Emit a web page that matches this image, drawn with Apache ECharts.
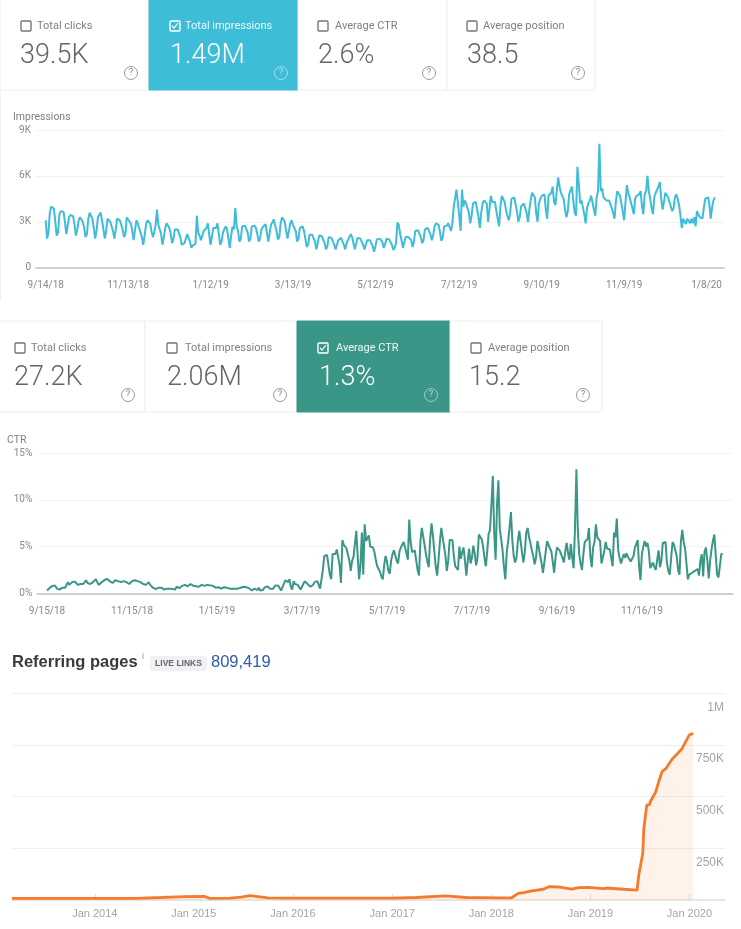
<!DOCTYPE html>
<html>
<head>
<meta charset="utf-8">
<title>Search Console and referring pages</title>
<script src="https://cdn.jsdelivr.net/npm/echarts@6/dist/echarts.min.js"></script>
<style>
  html, body { margin: 0; padding: 0; background: #fff; }
  #chart { width: 741px; height: 929px; }
</style>
</head>
<body>
<div id="chart"></div>
<script>
// top cards
const CARD_LABELS = ['Total clicks', 'Total impressions', 'Average CTR', 'Average position'];
const CARD_VALUES_1 = ['39.5K', '1.49M', '2.6%', '38.5'];
const CARD_VALUES_2 = ['27.2K', '2.06M', '1.3%', '15.2'];

// impressions (thousands), one value a day from 9/14/18, one row a week
const impressionsK = [3.1,
  1.9,2.3,3.6,4.0,3.95,3.85,3.0,
  2.1,2.3,3.5,3.7,3.75,3.65,3.0,
  2.2,2.2,3.3,3.45,3.4,3.35,2.8,
  2.1,2.5,3.1,3.3,3.2,3.0,2.6,
  2.0,2.2,3.2,3.6,3.5,3.2,2.6,
  1.9,2.4,3.3,3.4,3.6,3.1,2.5,
  1.9,2.4,3.2,3.25,3.0,2.9,2.4,
  1.9,2.5,3.2,3.15,3.1,3.0,2.5,
  2.0,2.2,3.3,3.15,3.25,2.9,2.4,
  1.8,1.9,3.1,2.9,2.6,2.5,2.0,
  1.5,2.1,2.8,3.1,3.2,2.9,2.4,
  2.0,2.3,2.8,3.8,2.8,2.7,2.2,
  1.5,2.0,2.6,2.9,2.8,2.6,2.2,
  1.6,1.9,2.5,2.6,2.5,2.45,2.0,
  1.5,1.5,1.6,1.7,2.2,2.2,1.7,
  1.3,1.45,1.5,1.55,3.4,2.3,2.1,
  1.8,2.1,2.4,2.5,2.6,2.9,2.8,
  1.5,1.6,2.6,2.6,2.6,2.9,2.2,
  1.5,1.7,2.3,2.5,2.7,2.5,1.9,
  1.3,2.1,2.7,2.5,3.9,2.7,2.4,
  1.7,1.9,2.7,2.6,2.75,2.85,2.3,
  1.7,1.9,2.7,2.8,2.75,2.6,2.2,
  1.7,1.9,2.5,2.65,2.75,2.85,2.3,
  1.7,1.8,2.8,2.95,3.15,3.05,2.4,
  1.85,2.0,2.9,3.3,3.2,3.0,2.4,
  1.9,2.0,2.9,3.1,2.8,2.8,2.4,
  1.7,1.9,2.6,2.7,2.7,2.4,1.9,
  1.35,1.5,2.15,2.15,2.15,2.2,1.7,
  1.2,1.6,2.1,2.05,2.05,2.0,1.6,
  1.2,1.4,2.0,1.95,1.95,1.9,1.5,
  1.2,1.5,1.8,1.9,1.95,1.9,1.5,
  1.2,1.6,1.8,2.0,2.2,2.0,1.6,
  1.2,1.6,1.95,1.85,1.9,1.8,1.5,
  1.2,1.5,1.8,1.85,1.8,1.7,1.4,
  1.05,1.4,1.85,1.8,1.9,2.0,1.7,
  1.3,1.5,1.9,1.95,1.85,1.75,1.5,
  1.15,1.3,1.6,2.95,2.8,2.2,1.8,
  1.3,1.4,2.0,2.1,2.0,2.1,1.8,
  1.35,1.7,2.4,2.45,2.45,2.35,2.0,
  1.6,1.8,2.5,2.6,2.6,2.5,2.2,
  1.8,2.1,2.7,2.9,2.95,2.8,2.3,
  1.75,2.0,2.7,2.8,2.75,2.9,2.8,
  2.4,2.9,4.0,4.1,5.1,5.1,3.4,
  2.4,5.1,4.0,4.4,4.2,4.2,3.6,
  2.9,3.4,4.2,4.1,4.3,4.3,3.3,
  2.6,3.6,4.2,4.4,4.3,4.2,3.0,
  2.9,4.7,4.3,4.3,4.3,3.7,3.2,
  2.7,4.0,4.7,4.5,4.3,3.8,3.4,
  3.1,3.5,4.5,4.6,4.6,4.6,3.7,
  3.0,3.3,4.0,4.1,4.2,4.3,3.6,
  3.0,3.8,4.4,4.9,4.9,4.6,3.6,
  3.0,4.2,4.5,4.7,4.7,4.8,3.8,
  3.2,4.7,4.8,4.9,5.3,4.3,4.1,
  4.0,5.9,5.3,4.9,4.7,4.5,3.8,
  3.3,3.7,4.8,4.9,5.3,4.4,3.6,
  3.4,6.6,5.5,4.2,4.4,4.5,3.5,
  2.9,3.9,4.2,4.4,4.7,4.6,3.8,
  3.4,4.6,5.0,8.1,5.0,5.2,4.6,
  4.5,4.4,4.5,4.4,4.3,3.9,3.6,
  3.2,4.3,5.0,4.9,4.7,4.6,3.7,
  3.1,4.3,5.4,4.9,4.6,4.6,3.9,
  3.5,4.5,4.7,4.8,4.8,5.0,4.0,
  3.5,4.8,5.0,6.0,5.0,4.5,3.9,
  3.5,4.6,4.9,5.0,5.3,5.6,4.5,
  3.8,4.3,4.9,4.9,4.6,4.5,4.0,
  3.7,3.9,4.6,4.8,4.5,4.1,3.4,
  2.6,3.2,3.0,2.85,3.2,3.2,2.9,
  3.2,2.9,3.3,2.7,3.7,3.5,3.3,
  3.3,3.2,3.9,4.5,4.5,4.6,4.2,
  3.2,3.9,4.4,4.6
];
const impressionsTickDays = [0, 60, 120, 180, 240, 301, 361, 421, 481];
const impressionsTickLabels = ['9/14/18', '11/13/18', '1/12/19', '3/13/19', '5/12/19', '7/12/19', '9/10/19', '11/9/19', '1/8/20'];

// CTR (%), one value a day from 9/15/18, ten to a row
const ctrPercent = [
  .3,.4,.6,.8,.8,.75,.8,.5,.35,.4,
  .55,.6,.6,.6,.9,1.2,.9,1.0,1.2,1.2,
  1.25,1.2,.9,.8,1.0,1.0,1.0,1.1,1.4,1.1,
  1.0,1.0,1.05,1.2,1.4,1.5,1.2,.9,1.1,1.15,
  1.2,1.4,1.6,1.55,1.45,1.3,1.3,1.1,1.0,1.4,
  1.5,1.3,1.2,1.2,1.2,1.3,1.5,1.2,1.1,1.0,
  1.2,1.3,1.4,1.4,1.4,1.3,1.25,1.2,1.0,1.0,
  1.2,.9,.95,1.2,.9,.7,.6,.4,.45,.6,
  .6,.55,.6,.55,.4,.3,.5,.55,.5,.5,
  .45,.5,.4,.7,.75,.55,.55,.8,1.0,.9,
  .8,.75,.7,1.0,.95,.8,.8,.75,.8,.7,
  .8,.9,.75,.8,.85,.9,.8,.85,1.0,.8,
  .6,.6,.65,.65,.65,.5,.4,.65,.7,.6,
  .6,.5,.4,.5,.55,.5,.45,.5,.6,.6,
  .4,.7,.7,.65,.6,.55,.4,.3,.1,.5,
  .3,.35,.6,.3,.25,.35,.6,.7,.75,.8,
  .5,.3,.45,.6,.85,1.0,.8,.6,.3,.5,
  1.0,1.4,1.25,1.2,1.5,.7,.4,1.3,1.0,.85,
  .9,.7,.4,.7,.8,1.3,1.1,1.0,.9,.7,
  .6,.9,1.2,1.25,1.3,1.3,.5,.6,2.5,4.0,
  4.1,4.1,4.1,2.0,1.5,4.2,4.0,4.2,4.7,4.6,
  3.0,1.1,5.7,5.2,5.0,4.8,4.6,3.5,2.4,3.5,
  3.9,3.7,6.7,4.0,1.5,3.0,6.5,2.0,7.4,5.6,
  5.5,6.2,5.0,5.0,4.9,4.4,3.6,2.9,2.6,2.3,
  1.8,1.5,3.0,4.0,3.4,2.4,2.1,3.5,4.2,4.6,
  4.4,3.5,3.2,4.5,4.9,5.1,5.5,4.9,4.3,3.6,
  7.9,5.5,4.4,4.5,4.6,3.5,2.5,1.9,5.5,7.0,
  7.0,5.2,4.2,3.4,2.8,5.8,7.5,6.2,4.5,2.9,
  1.9,3.5,5.5,7.0,6.0,6.2,4.0,2.4,3.5,5.7,
  5.8,5.7,4.0,2.9,2.7,2.5,5.0,3.7,4.4,4.9,
  3.5,1.9,3.5,4.8,3.2,3.8,5.1,4.3,3.0,3.8,
  6.3,6.5,5.8,5.0,3.8,2.9,4.5,6.4,6.8,9.5,
  12.6,6.5,3.6,9.5,12.1,6.9,5.8,4.6,2.8,1.5,
  4.4,5.6,7.0,8.7,5.7,4.0,3.3,3.8,5.6,6.7,
  5.5,4.3,3.3,4.5,6.5,7.0,6.0,5.4,4.6,4.0,
  3.1,3.8,5.6,4.9,4.0,3.2,2.2,2.4,4.5,5.6,
  5.6,4.8,4.5,3.4,2.2,3.8,4.9,5.0,4.6,4.2,
  3.8,3.3,4.5,5.4,4.3,3.6,5.3,3.8,2.7,7.0,
  13.3,6.9,4.2,3.2,2.5,4.2,5.5,5.6,5.8,7.0,
  4.0,2.8,4.9,5.5,7.4,6.0,5.8,5.6,3.2,3.1,
  4.5,5.5,4.8,4.7,4.7,3.8,2.9,6.5,6.0,8.0,
  4.6,3.8,3.2,3.2,4.2,3.8,4.3,3.9,3.7,3.4,
  3.2,4.0,4.9,5.0,5.7,2.9,1.4,4.2,5.0,5.6,
  5.0,5.4,4.5,2.7,3.0,3.3,2.8,2.5,3.6,4.6,
  2.8,3.5,5.4,5.5,5.5,3.2,2.4,2.0,1.8,5.5,
  5.2,5.0,4.0,2.5,2.0,5.5,6.8,5.5,4.8,3.2,
  1.5,2.0,2.2,2.2,2.4,2.4,2.6,2.6,1.9,3.5,
  4.2,1.8,4.5,4.9,3.5,1.6,3.5,4.7,5.6,6.3,
  6.3,2.0,1.7,1.6,4.2,4.2
];
const ctrTickDays = [0, 61, 122, 183, 244, 305, 366, 427];
const ctrTickLabels = ['9/15/18', '11/15/18', '1/15/19', '3/17/19', '5/17/19', '7/17/19', '9/16/19', '11/16/19'];

// referring pages
const referringDates = ['2013-03-02', '2014-06-01', '2014-09-01', '2014-12-01', '2015-02-10', '2015-03-01',
  '2015-05-15', '2015-06-25', '2015-07-27', '2015-10-01', '2016-01-01', '2017-01-01', '2017-04-01', '2017-07-15',
  '2017-10-01', '2018-02-01', '2018-03-17', '2018-04-10', '2018-05-05', '2018-05-30', '2018-07-12', '2018-08-03',
  '2018-09-05', '2018-10-24', '2018-11-18', '2018-12-24', '2019-02-18', '2019-03-03', '2019-05-03', '2019-06-22',
  '2019-06-28', '2019-07-05', '2019-07-13', '2019-07-17', '2019-07-23', '2019-07-28', '2019-08-06', '2019-08-11',
  '2019-08-29', '2019-09-10', '2019-09-22', '2019-10-07', '2019-10-29', '2019-12-03', '2019-12-31', '2020-01-15'];
const referringValues = [8000, 8000, 12000, 16000, 17000, 8000,
  9000, 14000, 21000, 10000, 9000, 9000, 12000, 20000,
  12000, 10000, 11000, 32000, 37000, 44000, 52000, 65000,
  63000, 53000, 60000, 61000, 55000, 58000, 52000, 48000,
  118000, 121000, 226000, 347000, 411000, 460000, 460000, 479000,
  521000, 573000, 621000, 637000, 681000, 729000, 798000, 806000];
const referringTicks = ['2014-01-01', '2015-01-01', '2016-01-01', '2017-01-01', '2018-01-01', '2019-01-01', '2020-01-01'];
const referringYLabels = [250000, 500000, 750000, 1000000];

const TEAL = '#3dbdd7';
const GREEN = '#3a9687';
const ORANGE = '#f47b2a';
const FONT = 'Roboto';

function ms(d) {
  return new Date(d).getTime();
}

// one row of cards: selected card gets the colour
function cardRow(top, height, edges, boxX, textX, valueX, helpX, values, selected, colour) {
  const els = [];
  const textY = top + 27;
  const valueY = top + 57;
  const helpY = top + 74;
  for (let i = 0; i < 4; i++) {
    const on = i === selected;
    els.push({ type: 'rect', shape: { x: edges[i], y: top, width: edges[i + 1] - edges[i], height: height },
      style: { fill: on ? colour : '#fff', stroke: on ? colour : '#eeeeee', lineWidth: 1 } });
    els.push({ type: 'rect', shape: { x: boxX[i] - 5, y: textY - 5, width: 10, height: 10, r: 1 },
      style: { fill: 'none', stroke: on ? '#fff' : '#777', lineWidth: 1.4 } });
    if (on) {
      els.push({ type: 'polyline', shape: { points: [[boxX[i] - 3, textY], [boxX[i] - 1, textY + 2], [boxX[i] + 3, textY - 3]] },
        style: { fill: 'none', stroke: '#fff', lineWidth: 1.2 } });
    }
    els.push({ type: 'text', x: textX[i], y: textY,
      style: { text: CARD_LABELS[i], fill: on ? '#eafafa' : '#808080', font: '11px ' + FONT, textVerticalAlign: 'middle' } });
    els.push({ type: 'text', x: valueX[i], y: valueY,
      style: { text: values[i], fill: on ? '#fff' : '#666', font: '300 27px ' + FONT, textVerticalAlign: 'middle' } });
    els.push({ type: 'circle', shape: { cx: helpX[i], cy: helpY, r: 6.5 },
      style: { fill: 'none', stroke: on ? 'rgba(255,255,255,0.5)' : '#999', lineWidth: 1 } });
    els.push({ type: 'text', x: helpX[i], y: helpY,
      style: { text: '?', fill: on ? 'rgba(255,255,255,0.6)' : '#888', font: '9.5px ' + FONT, textAlign: 'center', textVerticalAlign: 'middle' } });
  }
  return els;
}

const graphics = [].concat(
  cardRow(-1, 91, [0, 149, 298, 447, 595], [26, 175, 323, 472], [37, 185, 335, 483], [20, 170, 318, 467],
    [131, 281, 429, 578], CARD_VALUES_1, 1, TEAL),
  cardRow(321, 91, [-1, 145, 297, 450, 602], [20, 172, 323, 476], [31, 185, 336, 488], [14, 167, 319, 469],
    [128, 280, 431, 583], CARD_VALUES_2, 2, GREEN),
  [
    { type: 'rect', shape: { x: 0, y: 90, width: 1, height: 210 }, style: { fill: '#f0f0f0' } },
    { type: 'text', x: 13, y: 117, style: { text: 'Impressions', fill: '#808080', font: '10.5px ' + FONT, textVerticalAlign: 'middle' } },
    { type: 'text', x: 7, y: 440, style: { text: 'CTR', fill: '#808080', font: '10.5px ' + FONT, textVerticalAlign: 'middle' } },
    { type: 'text', x: 12, y: 662, style: { text: 'Referring pages', fill: '#3a3a3a', font: 'bold 16.5px "Liberation Sans"', textVerticalAlign: 'middle' } },
    { type: 'text', x: 142, y: 657, style: { text: 'i', fill: '#999', font: '9px "Liberation Sans"', textVerticalAlign: 'middle' } },
    { type: 'rect', shape: { x: 150, y: 656, width: 57, height: 15, r: 3 }, style: { fill: '#f0f0f5' } },
    { type: 'text', x: 178.5, y: 664, style: { text: 'LIVE LINKS', fill: '#666', font: 'bold 8.5px "Liberation Sans"', textAlign: 'center', textVerticalAlign: 'middle' } },
    { type: 'text', x: 211, y: 662, style: { text: '809,419', fill: '#2f5aa8', font: '16.5px "Liberation Sans"', textVerticalAlign: 'middle' } }
  ]
);

function dayAxis(gridIndex, min, max, ticks, labels) {
  return {
    type: 'value', gridIndex: gridIndex, min: min, max: max,
    splitLine: { show: false },
    axisTick: { show: false },
    axisLine: { show: true, lineStyle: { color: '#cfcfcf', width: 2 } },
    axisLabel: {
      customValues: ticks, margin: 13, color: '#888', fontSize: 10, fontFamily: FONT, hideOverlap: false,
      showMinLabel: true, showMaxLabel: true,
      formatter: function(v) { return labels[ticks.indexOf(v)] || ''; }
    }
  };
}

function gscYAxis(gridIndex, max, interval, formatter) {
  return {
    type: 'value', gridIndex: gridIndex, min: 0, max: max, interval: interval,
    axisLine: { show: false },
    axisTick: { show: false },
    splitLine: { lineStyle: { color: '#f2f2f2', width: 1 } },
    axisLabel: { margin: 5, color: '#888', fontSize: 10, fontFamily: FONT, formatter: formatter }
  };
}

function daily(values) {
  return values.map(function(v, i) { return [i, v]; });
}

const option = {
  backgroundColor: '#fff',
  animation: false,
  graphic: graphics,
  grid: [
    { left: 36, width: 688, top: 130, height: 137.7 },
    { left: 37.3, width: 695.4, top: 453.3, height: 140 },
    { left: 12, width: 713, top: 693.3, height: 206.7 }
  ],
  xAxis: [
    dayAxis(0, -7.06, 493.7, impressionsTickDays, impressionsTickLabels),
    dayAxis(1, -7, 492.2, ctrTickDays, ctrTickLabels),
    {
      type: 'value', gridIndex: 2, scale: true,
      min: ms('2013-03-02'), max: ms('2020-05-11'),
      splitLine: { show: false },
      axisLine: { show: true, lineStyle: { color: '#e2e2e2', width: 1.5 } },
      axisTick: { show: true, inside: true, length: 6, lineStyle: { color: '#ddd' }, customValues: referringTicks.map(ms) },
      axisLabel: {
        customValues: referringTicks.map(ms),
        margin: 8, color: '#a5a5a5', fontSize: 11, fontFamily: '"Liberation Sans"', hideOverlap: false,
        formatter: function(v) { return 'Jan ' + new Date(v).getUTCFullYear(); }
      }
    }
  ],
  yAxis: [
    gscYAxis(0, 9, 3, function(v) { return v === 0 ? '0' : v + 'K'; }),
    gscYAxis(1, 15, 5, function(v) { return v + '%'; }),
    {
      type: 'value', gridIndex: 2, position: 'right', min: 0, max: 1000000, interval: 250000,
      axisLine: { show: false },
      axisTick: { show: false },
      splitLine: { lineStyle: { color: '#efefef', width: 1 } },
      axisLabel: {
        inside: true, margin: 1, verticalAlign: 'top', padding: [8, 0, 0, 0], color: '#a5a5a5', fontSize: 12, fontFamily: '"Liberation Sans"',
        customValues: referringYLabels,
        formatter: function(v) { return v >= 1000000 ? '1M' : (v / 1000) + 'K'; }
      }
    }
  ],
  series: [
    { type: 'line', xAxisIndex: 0, yAxisIndex: 0, data: daily(impressionsK), showSymbol: false,
      lineStyle: { color: TEAL, width: 2 }, itemStyle: { color: TEAL } },
    { type: 'line', xAxisIndex: 1, yAxisIndex: 1, data: daily(ctrPercent), showSymbol: false,
      lineStyle: { color: GREEN, width: 2 }, itemStyle: { color: GREEN } },
    { type: 'line', xAxisIndex: 2, yAxisIndex: 2, showSymbol: false,
      data: referringDates.map(function(d, i) { return [ms(d), referringValues[i]]; }),
      lineStyle: { color: ORANGE, width: 2.8 }, itemStyle: { color: ORANGE },
      areaStyle: { color: 'rgba(244,123,42,0.14)' } }
  ]
};

const chart = echarts.init(document.getElementById('chart'));
chart.setOption(option);
</script>
</body>
</html>
